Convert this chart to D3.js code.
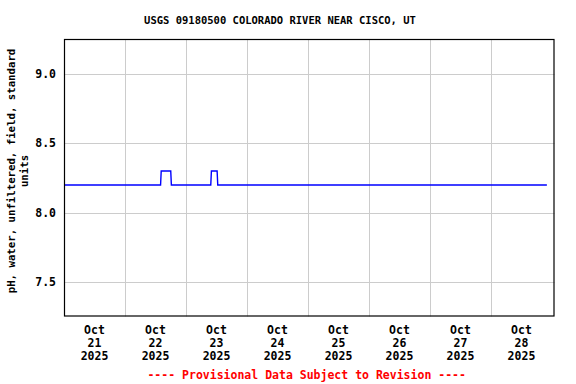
<!DOCTYPE html>
<html><head><meta charset="utf-8">
<script src="https://cdn.jsdelivr.net/npm/d3@7"></script>
<style>body{margin:0;background:#fff}svg{display:block}text{font-family:"DejaVu Sans Mono",monospace;font-weight:bold}</style>
</head><body><svg id="c" width="576" height="384"></svg>
<script>
const title = "USGS 09180500 COLORADO RIVER NEAR CISCO, UT";
const yLabel = ["pH, water, unfiltered, field, standard", "units"];
const footer = "---- Provisional Data Subject to Revision ----";
const times = ["2025-10-21T00:00","2025-10-22T14:00","2025-10-22T14:15","2025-10-22T18:00","2025-10-22T18:15","2025-10-23T09:45","2025-10-23T10:00","2025-10-23T12:15","2025-10-23T12:30","2025-10-28T22:00"];
const values = [8.2,8.2,8.3,8.3,8.2,8.2,8.3,8.3,8.2,8.2];
const yTicks = [7.5, 8.0, 8.5, 9.0];
const dayLabels = ["2025-10-21","2025-10-22","2025-10-23","2025-10-24","2025-10-25","2025-10-26","2025-10-27","2025-10-28"];
const gridDays = ["2025-10-22","2025-10-23","2025-10-24","2025-10-25","2025-10-26","2025-10-27","2025-10-28"];

const svg = d3.select("#c");
const L = 64, R = 554.5, T = 39, B = 316.5;
const parse = d3.timeParse("%Y-%m-%dT%H:%M");
const pday = d3.timeParse("%Y-%m-%d");
const x = d3.scaleTime().domain([parse("2025-10-21T00:00"), parse("2025-10-29T01:00")]).range([L, R]);
const y = d3.scaleLinear().domain([7.249, 9.254]).range([B, T]);

const g = svg.append("g");
g.selectAll(".hg").data(yTicks).enter().append("line")
  .attr("x1", L).attr("x2", R).attr("y1", d => Math.round(y(d)) + 0.5).attr("y2", d => Math.round(y(d)) + 0.5)
  .attr("stroke", "#cccccc").attr("stroke-width", 1);
g.selectAll(".vg").data(gridDays).enter().append("line")
  .attr("y1", T).attr("y2", B).attr("x1", d => Math.round(x(pday(d))) + 0.5).attr("x2", d => Math.round(x(pday(d))) + 0.5)
  .attr("stroke", "#cccccc").attr("stroke-width", 1);

const pts = times.map((t, i) => [parse(t), values[i]]);
g.append("path").datum(pts)
  .attr("d", d3.line().x(d => x(d[0])).y(d => Math.round(y(d[1]))))
  .attr("fill", "none").attr("stroke", "#0000ff").attr("stroke-width", 1.4);

g.append("rect").attr("x", L + 0.5).attr("y", T + 0.5).attr("width", R - L - 1).attr("height", B - T - 1)
  .attr("fill", "none").attr("stroke", "#000").attr("stroke-width", 1.2);

// y tick labels
g.selectAll(".yt").data(yTicks).enter().append("text")
  .attr("x", 56).attr("y", d => y(d) + 4).attr("text-anchor", "end")
  .attr("font-size", "11.5px").text(d3.format(".1f"));

// x tick labels
const xl = g.selectAll(".xt").data(dayLabels).enter().append("text")
  .attr("text-anchor", "middle").attr("font-size", "11.5px");
const fmts = [d3.timeFormat("%b"), d3.timeFormat("%d"), d3.timeFormat("%Y")];
fmts.forEach((f, i) => {
  xl.append("tspan").attr("x", d => x(d3.timeHour.offset(pday(d), 12))).attr("y", 334 + i * 13).text(d => f(pday(d)));
});

// title
svg.append("text").attr("x", 280).attr("y", 24).attr("text-anchor", "middle").attr("font-size", "10.5px").text(title);

// y label
const yl = svg.append("text").attr("transform", "translate(0,171) rotate(-90)").attr("text-anchor", "middle").attr("font-size", "10.7px");
yLabel.forEach((s, i) => yl.append("tspan").attr("x", 0).attr("y", 15 + i * 13).text(s));

// footer
svg.append("text").attr("x", 306.7).attr("y", 379).attr("text-anchor", "middle").attr("font-size", "11.5px").attr("fill", "#ff0000").text(footer);
</script></body></html>
